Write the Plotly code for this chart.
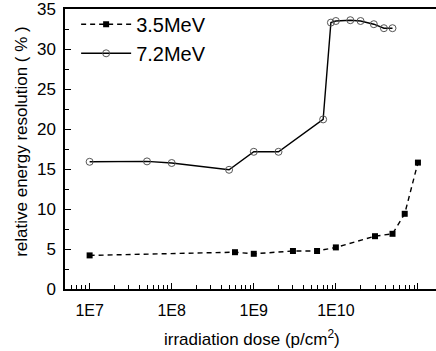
import plotly.graph_objects as go

# 3.5 MeV series
dose_35 = [1e7, 5.9e8, 1e9, 3e9, 5.9e9, 1e10, 3e10, 4.9e10, 6.9e10, 1e11]
res_35 = [4.2, 4.6, 4.4, 4.75, 4.75, 5.2, 6.6, 6.9, 9.4, 15.8]

# 7.2 MeV series
dose_72 = [1e7, 5e7, 1e8, 5e8, 1e9, 2e9, 7e9, 8.7e9, 1e10, 1.5e10, 2e10, 2.9e10, 3.85e10, 4.9e10]
res_72 = [15.9, 15.95, 15.75, 14.9, 17.15, 17.15, 21.2, 33.3, 33.5, 33.6, 33.5, 33.1, 32.6, 32.6]

x_ticks = [1e7, 1e8, 1e9, 1e10, 1e11]
x_ticklabels = ["1E7", "1E8", "1E9", "1E10", "1E11"]
y_ticks = [0, 5, 10, 15, 20, 25, 30, 35]
x_minor = [m * 10 ** e for e in range(6, 12) for m in range(2, 10)]
y_minor = [2.5, 7.5, 12.5, 17.5, 22.5, 27.5, 32.5]

FONT = "Arial, 'Liberation Sans', sans-serif"
X_RANGE = [6.70, 11.22]
Y_RANGE = [0, 35]

fig = go.Figure()
fig.add_trace(go.Scatter(
    x=dose_35, y=res_35, name="3.5MeV", mode="lines+markers",
    line=dict(color="black", width=1.4, dash="5px,4px"),
    marker=dict(symbol="square", size=6, color="black"),
))
fig.add_trace(go.Scatter(
    x=dose_72, y=res_72, name="7.2MeV", mode="lines+markers",
    line=dict(color="black", width=1.4),
    marker=dict(symbol="circle-open", size=7, color="#555555", line=dict(width=1)),
))
# invisible helper trace so the minor-tick axes are drawn
fig.add_trace(go.Scatter(x=[1e9], y=[10], xaxis="x2", yaxis="y2", mode="markers",
                         marker=dict(opacity=0), showlegend=False, hoverinfo="skip"))

fig.update_layout(
    width=436, height=351,
    margin=dict(l=65, r=0, t=9, b=62),
    paper_bgcolor="white", plot_bgcolor="white",
    font=dict(family=FONT, color="black"),
    showlegend=True,
    legend=dict(x=0.03, y=1.015, xanchor="left", yanchor="top",
                font=dict(size=20, family=FONT), itemwidth=50,
                bgcolor="rgba(0,0,0,0)", tracegroupgap=0),
    xaxis=dict(
        type="log", range=X_RANGE,
        tickmode="array", tickvals=x_ticks, ticktext=x_ticklabels,
        ticks="inside", ticklen=6, tickwidth=1.2, tickcolor="black",
        tickfont=dict(size=16, family=FONT),
        ticklabelstandoff=6,
        showline=True, linecolor="black", linewidth=1.5, mirror=True,
        showgrid=False, zeroline=False,
    ),
    xaxis2=dict(
        type="log", range=X_RANGE, overlaying="x", side="bottom", anchor="y",
        tickmode="array", tickvals=x_minor, showticklabels=False,
        ticks="inside", ticklen=4, tickwidth=1.2, tickcolor="black",
        showline=False, showgrid=False, zeroline=False,
    ),
    yaxis=dict(
        range=Y_RANGE, tickmode="array", tickvals=y_ticks,
        ticks="inside", ticklen=6, tickwidth=1.2, tickcolor="black",
        tickfont=dict(size=17, family=FONT),
        ticklabelstandoff=4, ticklabeloverflow="allow",
        showline=True, linecolor="black", linewidth=1.5,
        showgrid=False, zeroline=False,
    ),
    yaxis2=dict(
        range=Y_RANGE, overlaying="y", side="left", anchor="x",
        tickmode="array", tickvals=y_minor, showticklabels=False,
        ticks="inside", ticklen=4, tickwidth=1.2, tickcolor="black",
        showline=False, showgrid=False, zeroline=False,
    ),
    annotations=[
        dict(text="relative energy resolution ( % )", xref="paper", yref="paper",
             x=-0.116, y=0.529, xanchor="center", yanchor="middle", textangle=-90,
             showarrow=False, font=dict(size=17, family=FONT)),
        dict(text="irradiation dose (p/cm<sup>2</sup>)", xref="paper", yref="paper",
             x=0.504, y=-0.175, xanchor="center", yanchor="middle",
             showarrow=False, font=dict(size=17, family=FONT)),
    ],
)

fig.write_html("out.html", config={"displayModeBar": False},
               post_script="document.body.style.margin='0';document.body.style.padding='0';")
